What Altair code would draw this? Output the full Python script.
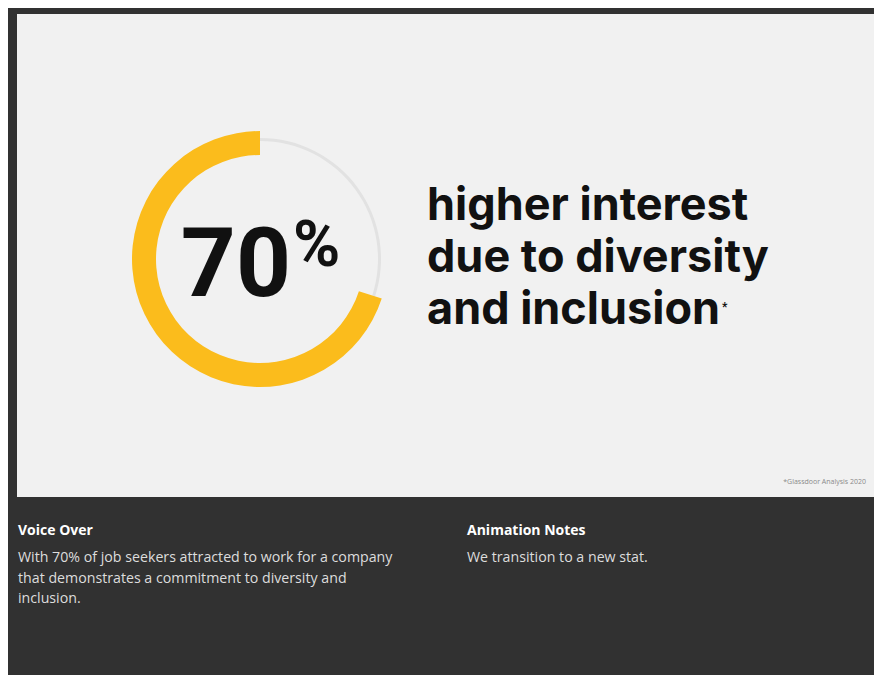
import altair as alt
import pandas as pd

# ---- data ----
segments = ["remaining", "attracted"]
shares = [30, 70]
stat_number = "70"
stat_unit = "%"
headline = ["higher interest", "due to diversity", "and inclusion"]
footnote = "*Glassdoor Analysis 2020"
vo_title = "Voice Over"
vo_lines = ["With 70% of job seekers attracted to work for a company",
            "that demonstrates a commitment to diversity and",
            "inclusion."]
an_title = "Animation Notes"
an_lines = ["We transition to a new stat."]

W, H = 866, 667
DARK = "#313131"
PANEL = "#f1f1f1"
YELLOW = "#fbbc1c"
GREY = "#e2e2e2"
FONT = "Open Sans"

donut = pd.DataFrame({"segment": segments, "share": shares})
one = pd.DataFrame({"k": [0]})

panel = alt.Chart(one).mark_rect(color=PANEL).encode(
    x=alt.value(9), x2=alt.value(872), y=alt.value(6), y2=alt.value(489)
)

cx, cy = 252, 251
arc_yellow = alt.Chart(donut).mark_arc(radius=128, radius2=104, stroke=None).encode(
    theta=alt.Theta("share:Q", stack=True, sort=None),
    order=alt.Order("k:O"),
    color=alt.value(YELLOW),
    opacity=alt.condition(alt.datum.segment == "attracted", alt.value(1), alt.value(0)),
    x=alt.value(cx), y=alt.value(cy),
).transform_calculate(k="datum.segment == 'remaining' ? 0 : 1")

arc_grey = alt.Chart(donut).mark_arc(radius=121, radius2=118, stroke=None).encode(
    theta=alt.Theta("share:Q", stack=True, sort=None),
    order=alt.Order("k:O"),
    color=alt.value(GREY),
    opacity=alt.condition(alt.datum.segment == "remaining", alt.value(1), alt.value(0)),
    x=alt.value(cx), y=alt.value(cy),
).transform_calculate(k="datum.segment == 'remaining' ? 0 : 1")


def txt(s, x, y, size, color, weight="normal", align="left", baseline="alphabetic",
        font=FONT):
    return alt.Chart(one).mark_text(
        text=s, x=x, y=y, fontSize=size, color=color, fontWeight=weight,
        align=align, baseline=baseline, font=font
    )

layers = [panel, arc_grey, arc_yellow]
layers.append(txt(stat_number, 283, 288, 96, "#111111", "bold", "right", font="Roboto"))
layers.append(txt(stat_unit, 285, 258, 64, "#111111", "bold", "left", font="Roboto"))
for i, line in enumerate(headline):
    layers.append(txt(line, 419, 212 + 52 * i, 45, "#111111", "bold", font="Inter"))
layers.append(txt("*", 714, 294, 12, "#111111", "bold", baseline="top", font="Roboto"))
layers.append(txt(footnote, 858, 476, 7, "#8a8a8a", align="right"))
layers.append(txt(vo_title, 10, 527, 14, "#ffffff", "bold"))
for i, line in enumerate(vo_lines):
    layers.append(txt(line, 10, 554 + 20.5 * i, 14.2, "#dddddd"))
layers.append(txt(an_title, 459, 527, 14, "#ffffff", "bold"))
for i, line in enumerate(an_lines):
    layers.append(txt(line, 459, 554 + 20.5 * i, 14.2, "#dddddd"))

chart = alt.layer(*layers).properties(
    width=W, height=H, autosize=alt.AutoSizeParams(type="none"), padding=0,
    background=DARK
).configure_view(stroke=None)

chart.save("out.html", embed_options={"renderer": "svg", "actions": False})
